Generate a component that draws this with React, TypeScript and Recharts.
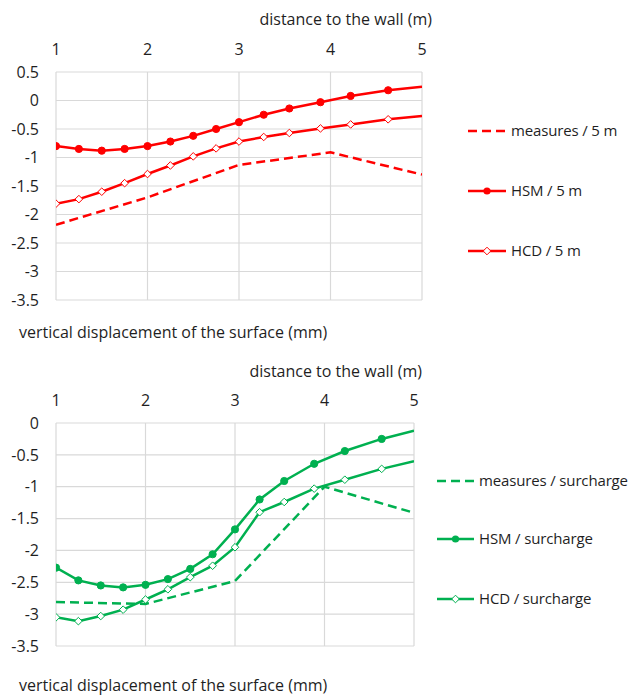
import React from 'react';
import { LineChart, Line, XAxis, YAxis, CartesianGrid } from 'recharts';

// distances (m) of the computed points
const xsModel5m = [1, 1.25, 1.5, 1.75, 2, 2.25, 2.5, 2.75, 3, 3.27, 3.55, 3.89, 4.22, 4.63, 5];
const hsm5m = [-0.8, -0.85, -0.88, -0.85, -0.8, -0.72, -0.62, -0.5, -0.38, -0.25, -0.14, -0.03, 0.08, 0.18, 0.24];
const hcd5m = [-1.81, -1.73, -1.6, -1.45, -1.29, -1.14, -0.98, -0.84, -0.72, -0.64, -0.57, -0.49, -0.42, -0.33, -0.27];

const xsMeasures = [1, 2, 3, 4, 5];
const measures5m = [-2.18, -1.7, -1.13, -0.91, -1.3];

const xsModelSur = [1, 1.25, 1.5, 1.75, 2, 2.25, 2.5, 2.75, 3, 3.275, 3.55, 3.885, 4.227, 4.639, 5];
const hsmSur = [-2.27, -2.47, -2.55, -2.58, -2.54, -2.45, -2.29, -2.06, -1.67, -1.2, -0.91, -0.64, -0.44, -0.25, -0.12];
const hcdSur = [-3.05, -3.11, -3.03, -2.93, -2.77, -2.61, -2.42, -2.24, -1.95, -1.4, -1.24, -1.03, -0.89, -0.72, -0.6];
const measuresSur = [-2.81, -2.84, -2.48, -1.0, -1.41];

const xTicks = [1, 2, 3, 4, 5];
const yTicksTop = [0.5, 0, -0.5, -1, -1.5, -2, -2.5, -3, -3.5];
const yTicksBottom = [0, -0.5, -1, -1.5, -2, -2.5, -3, -3.5];

const FONT = '"Open Sans", sans-serif';
const FS = 16;
const TEXT = '#1f1f1f';
const RED = '#FF0000';
const GREEN = '#00B050';

const toPoints = (xs: number[], ys: number[]) => xs.map((x, i) => ({ x, y: ys[i] }));

const circleDot = (color: string) => (props: any) => {
  const { cx, cy, payload, index } = props;
  if (payload.x >= 5) return <g key={index} />;
  return <circle key={index} cx={cx} cy={cy} r={3.6} fill={color} stroke={color} strokeWidth={1} />;
};

const diamondDot = (color: string) => (props: any) => {
  const { cx, cy, payload, index } = props;
  if (payload.x >= 5) return <g key={index} />;
  const s = 3.8;
  return (
    <path
      key={index}
      d={`M${cx},${cy - s} L${cx + s},${cy} L${cx},${cy + s} L${cx - s},${cy} Z`}
      fill="#fff"
      stroke={color}
      strokeWidth={1}
    />
  );
};

type LegendItem = { name: string; kind: 'dash' | 'circle' | 'diamond' };

const LegendRow = ({ item, color, y, x1, x2, tx }: { item: LegendItem; color: string; y: number; x1: number; x2: number; tx: number }) => {
  const mid = (x1 + x2) / 2;
  const s = 3.8;
  return (
    <>
      <svg style={{ position: 'absolute', left: 0, top: y - 10, overflow: 'visible' }} width={636} height={20}>
        <line
          x1={x1}
          x2={x2}
          y1={10}
          y2={10}
          stroke={color}
          strokeWidth={2.5}
          strokeDasharray={item.kind === 'dash' ? '9 5' : undefined}
        />
        {item.kind === 'circle' && <circle cx={mid} cy={10} r={3.6} fill={color} />}
        {item.kind === 'diamond' && (
          <path d={`M${mid},${10 - s} L${mid + s},10 L${mid},${10 + s} L${mid - s},10 Z`} fill="#fff" stroke={color} strokeWidth={1} />
        )}
      </svg>
      <div
        style={{
          position: 'absolute',
          left: tx,
          top: y - 11,
          lineHeight: '20px',
          fontSize: 15,
          letterSpacing: -0.15,
          color: TEXT,
          whiteSpace: 'nowrap',
        }}
      >
        {item.name}
      </div>
    </>
  );
};

type PanelProps = {
  top: number;
  height: number;
  marginTop: number;
  marginBottom: number;
  marginRight: number;
  yDomain: [number, number];
  yTicks: number[];
  color: string;
  hsm: { x: number; y: number }[];
  hcd: { x: number; y: number }[];
  measures: { x: number; y: number }[];
};

const Panel = (p: PanelProps) => (
  <div style={{ position: 'absolute', left: 0, top: p.top }}>
    <LineChart
      width={636}
      height={p.height}
      margin={{ top: 0, right: p.marginRight, bottom: p.marginBottom, left: 0 }}
    >
      <CartesianGrid stroke="#d9d9d9" strokeWidth={1.2} />
      <XAxis
        type="number"
        dataKey="x"
        orientation="top"
        domain={[1, 5]}
        ticks={xTicks}
        allowDataOverflow
        axisLine={false}
        tickLine={false}
        tickSize={0}
        tickMargin={17}
        height={p.marginTop}
        tick={{ fill: TEXT, fontSize: FS, fontFamily: FONT }}
        interval={0}
      />
      <YAxis
        type="number"
        domain={p.yDomain}
        ticks={p.yTicks}
        allowDataOverflow
        axisLine={false}
        tickLine={false}
        tickSize={0}
        tickMargin={17}
        width={56}
        tick={{ fill: TEXT, fontSize: FS, fontFamily: FONT }}
        interval={0}
      />
      <Line
        data={p.measures}
        dataKey="y"
        stroke={p.color}
        strokeWidth={2.5}
        strokeDasharray="9 5"
        dot={false}
        isAnimationActive={false}
      />
      <Line
        data={p.hsm}
        dataKey="y"
        stroke={p.color}
        strokeWidth={2.5}
        dot={circleDot(p.color)}
        isAnimationActive={false}
      />
      <Line
        data={p.hcd}
        dataKey="y"
        stroke={p.color}
        strokeWidth={2.5}
        dot={diamondDot(p.color)}
        isAnimationActive={false}
      />
    </LineChart>
  </div>
);

const titleStyle: React.CSSProperties = {
  position: 'absolute',
  lineHeight: '18px',
  fontSize: FS,
  color: TEXT,
  whiteSpace: 'nowrap',
};

export default function App() {
  const topLegend: LegendItem[] = [
    { name: 'measures / 5 m', kind: 'dash' },
    { name: 'HSM / 5 m', kind: 'circle' },
    { name: 'HCD / 5 m', kind: 'diamond' },
  ];
  const bottomLegend: LegendItem[] = [
    { name: 'measures / surcharge', kind: 'dash' },
    { name: 'HSM / surcharge', kind: 'circle' },
    { name: 'HCD / surcharge', kind: 'diamond' },
  ];
  const topRows = [131, 191, 251];
  const bottomRows = [481, 539, 599];

  return (
    <div
      style={{
        position: 'absolute',
        left: 0,
        top: 0,
        width: 636,
        height: 695,
        background: '#fff',
        fontFamily: FONT,
        overflow: 'hidden',
      }}
    >
      <Panel
        top={0}
        height={347}
        marginTop={72}
        marginBottom={47}
        marginRight={214}
        yDomain={[-3.5, 0.5]}
        yTicks={yTicksTop}
        color={RED}
        hsm={toPoints(xsModel5m, hsm5m)}
        hcd={toPoints(xsModel5m, hcd5m)}
        measures={toPoints(xsMeasures, measures5m)}
      />
      <Panel
        top={347}
        height={348}
        marginTop={76}
        marginBottom={49}
        marginRight={222}
        yDomain={[-3.5, 0]}
        yTicks={yTicksBottom}
        color={GREEN}
        hsm={toPoints(xsModelSur, hsmSur)}
        hcd={toPoints(xsModelSur, hcdSur)}
        measures={toPoints(xsMeasures, measuresSur)}
      />

      <div style={{ ...titleStyle, right: 204, top: 10 }}>distance to the wall (m)</div>
      <div style={{ ...titleStyle, left: 19, top: 323 }}>vertical displacement of the surface (mm)</div>
      <div style={{ ...titleStyle, right: 214, top: 362 }}>distance to the wall (m)</div>
      <div style={{ ...titleStyle, left: 19, top: 676 }}>vertical displacement of the surface (mm)</div>

      {topLegend.map((item, i) => (
        <LegendRow key={item.name} item={item} color={RED} y={topRows[i]} x1={468} x2={506} tx={511} />
      ))}
      {bottomLegend.map((item, i) => (
        <LegendRow key={item.name} item={item} color={GREEN} y={bottomRows[i]} x1={437} x2={474} tx={479} />
      ))}
    </div>
  );
}
